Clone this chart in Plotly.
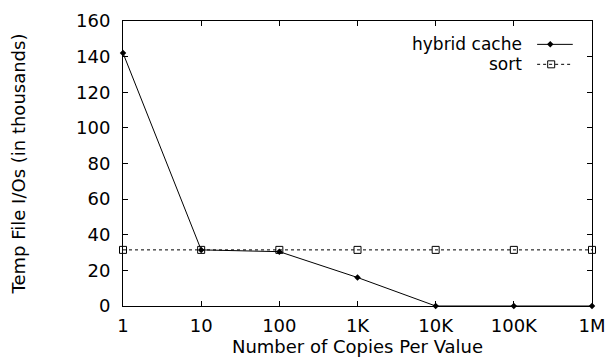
import plotly.graph_objects as go

copies = [1, 10, 100, 1000, 10000, 100000, 1000000]
tick_labels = ["1", "10", "100", "1K", "10K", "100K", "1M"]
hybrid_cache = [142, 31.5, 30.5, 16, 0, 0, 0]
sort_io = [31.5, 31.5, 31.5, 31.5, 31.5, 31.5, 31.5]

FONT = "DejaVu Sans, Liberation Sans, sans-serif"
fig = go.Figure()

fig.add_trace(go.Scatter(
    x=copies, y=hybrid_cache, mode="lines+markers", name="hybrid cache",
    line=dict(color="black", width=1),
    marker=dict(symbol="diamond", size=5, color="black"),
    cliponaxis=False, showlegend=False))
fig.add_trace(go.Scatter(
    x=copies, y=sort_io, mode="lines+markers", name="sort",
    line=dict(color="black", width=1, dash="dot"),
    marker=dict(symbol="square-open", size=7, color="black", line=dict(width=1)),
    cliponaxis=False, showlegend=False))

# custom legend (text left of sample), drawn on hidden unit axes
LY1, LY2 = 0.918, 0.848
fig.add_trace(go.Scatter(x=[0.883, 0.959], y=[LY1, LY1], mode="lines",
                         line=dict(color="black", width=1), xaxis="x2", yaxis="y2",
                         showlegend=False, hoverinfo="skip"))
fig.add_trace(go.Scatter(x=[0.911], y=[LY1], mode="markers",
                         marker=dict(symbol="diamond", size=5, color="black"),
                         xaxis="x2", yaxis="y2", showlegend=False, hoverinfo="skip"))
fig.add_trace(go.Scatter(x=[0.883, 0.959], y=[LY2, LY2], mode="lines",
                         line=dict(color="black", width=1, dash="dot"), xaxis="x2", yaxis="y2",
                         showlegend=False, hoverinfo="skip"))
fig.add_trace(go.Scatter(x=[0.913], y=[LY2], mode="markers",
                         marker=dict(symbol="square-open", size=7, color="black", line=dict(width=1)),
                         xaxis="x2", yaxis="y2", showlegend=False, hoverinfo="skip"))
fig.add_annotation(x=0.853, y=LY1, xref="x2 domain", yref="y2 domain", text="hybrid cache",
                   showarrow=False, xanchor="right", yanchor="middle", borderpad=0,
                   font=dict(family=FONT, size=17, color="black"))
fig.add_annotation(x=0.853, y=LY2, xref="x2 domain", yref="y2 domain", text="sort",
                   showarrow=False, xanchor="right", yanchor="middle", borderpad=0,
                   font=dict(family=FONT, size=17, color="black"))

fig.update_layout(
    width=608, height=358,
    margin=dict(l=123, r=16, t=21, b=52, autoexpand=False),
    paper_bgcolor="white", plot_bgcolor="white",
    font=dict(family=FONT, size=18, color="black"),
    xaxis=dict(type="log", range=[0, 6], tickvals=copies, ticktext=tick_labels,
               ticks="inside", ticklen=5, tickcolor="black", showline=True,
               linecolor="black", linewidth=1, mirror="ticks", showgrid=False,
               zeroline=False, automargin=False, ticklabelstandoff=3,
               title=dict(text="Number of Copies Per Value", standoff=0,
                          font=dict(size=18))),
    yaxis=dict(range=[0, 160], dtick=20, ticks="inside", ticklen=5,
               tickcolor="black", showline=True, linecolor="black", linewidth=1,
               mirror="ticks", showgrid=False, zeroline=False, automargin=False,
               ticklabelstandoff=8,
               title=dict(text="Temp File I/Os (in thousands)", standoff=45,
                          font=dict(size=18))),
    xaxis2=dict(range=[0, 1], overlaying="x", visible=False, fixedrange=True),
    yaxis2=dict(range=[0, 1], overlaying="y", visible=False, fixedrange=True),
)

fig.write_html("out.html")
